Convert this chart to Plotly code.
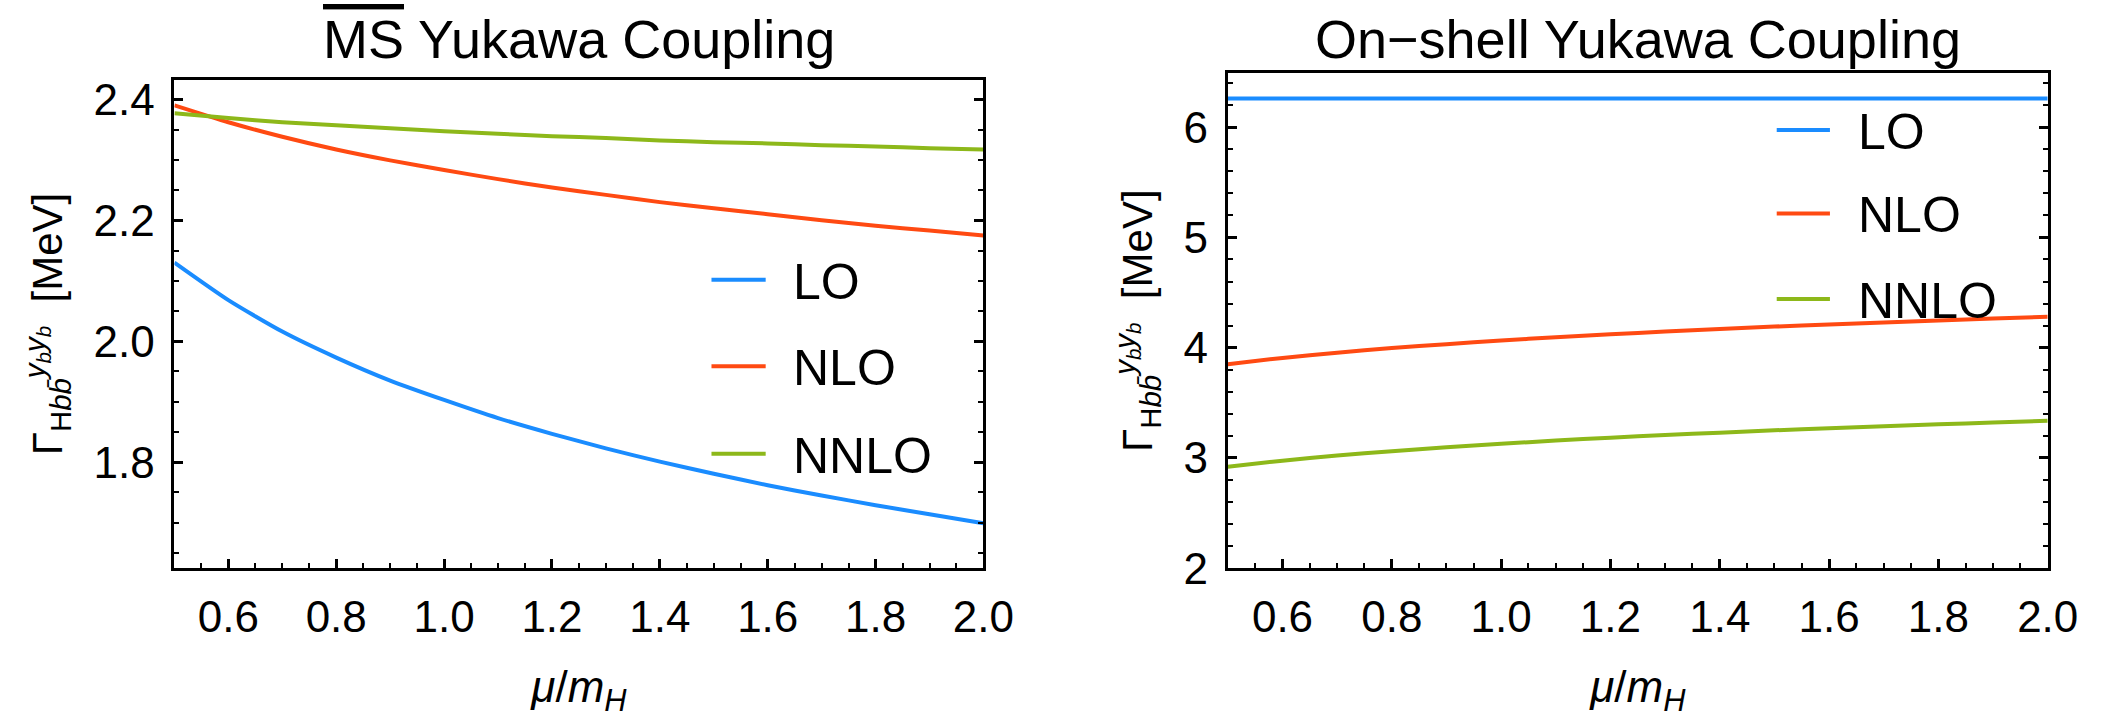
import plotly.graph_objects as go

# ---------------- data ----------------
mu = [0.5, 0.6, 0.7, 0.8, 0.9, 1.0, 1.1, 1.2, 1.3, 1.4, 1.5, 1.6, 1.7, 1.8, 1.9, 2.0]

# MS-bar Yukawa coupling  [MeV]
ms_lo   = [2.130, 2.068, 2.016, 1.973, 1.935, 1.903, 1.873, 1.847, 1.823, 1.801, 1.781, 1.762, 1.745, 1.729, 1.714, 1.699]
ms_nlo  = [2.390, 2.362, 2.338, 2.317, 2.299, 2.283, 2.268, 2.254, 2.242, 2.230, 2.220, 2.210, 2.200, 2.191, 2.183, 2.175]
ms_nnlo = [2.377, 2.369, 2.362, 2.357, 2.352, 2.347, 2.343, 2.339, 2.336, 2.332, 2.329, 2.327, 2.324, 2.322, 2.319, 2.317]

# On-shell Yukawa coupling  [MeV]
os_lo   = [6.26] * len(mu)
os_nlo  = [3.850, 3.907, 3.954, 3.996, 4.032, 4.065, 4.094, 4.121, 4.146, 4.169, 4.191, 4.211, 4.229, 4.247, 4.264, 4.280]
os_nnlo = [2.920, 2.975, 3.021, 3.061, 3.096, 3.128, 3.157, 3.183, 3.207, 3.229, 3.250, 3.269, 3.287, 3.304, 3.321, 3.336]

series_names = ["LO", "NLO", "NNLO"]
titles = ["<span style='text-decoration:overline'>MS</span> Yukawa Coupling", "On\u2212shell Yukawa Coupling"]
x_ticks = [0.6, 0.8, 1.0, 1.2, 1.4, 1.6, 1.8, 2.0]
left_y_ticks = [1.8, 2.0, 2.2, 2.4]
right_y_ticks = [2, 3, 4, 5, 6]

# ---------------- styling ----------------
W, H = 2127, 718
colors = ["#1a8cff", "#ff4a12", "#8db81a"]
FONT = "Liberation Sans, Arial, Helvetica, sans-serif"

def px_x(p):
    return p / W

def px_y(p):
    return 1 - p / H

fig = go.Figure()

panels = [
    (ms_lo, ms_nlo, ms_nnlo, "x", "y"),
    (os_lo, os_nlo, os_nnlo, "x2", "y2"),
]
for (lo, nlo, nnlo, xa, ya) in panels:
    for name, vals, col in zip(series_names, [lo, nlo, nnlo], colors):
        fig.add_trace(go.Scatter(
            x=mu, y=vals, mode="lines", name=name,
            line=dict(color=col, width=4, shape="spline", smoothing=0.6),
            xaxis=xa, yaxis=ya, showlegend=False,
        ))

axis_common = dict(
    showline=True, linecolor="black", linewidth=3,
    ticks="inside", tickcolor="black", tickwidth=2.5, ticklen=9,
    showgrid=False, zeroline=False,
    tickfont=dict(family=FONT, size=44, color="black"),
)

ytitle = ("\u0393<sub>H<i>b</i><i>b\u0304</i></sub>"
          "<sup><i>y<sub>b</sub>y<sub>b</sub></i></sup>  [MeV]")
xtitle = "<i>\u03bc</i>/<i>m<sub>H</sub></i>"

fig.update_layout(
    width=W, height=H,
    margin=dict(l=0, r=0, t=0, b=0),
    paper_bgcolor="white", plot_bgcolor="white",
    font=dict(family=FONT, color="black"),
    showlegend=False,
    xaxis=dict(domain=[px_x(177), px_x(998)], range=[0.5, 2.0], anchor="y",
               tickvals=x_ticks, tickformat=".1f", mirror=True,
               minor=dict(dtick=0.05, tick0=0.5, ticklen=5, tickwidth=2, tickcolor="black", ticks="inside"),
               ticklabelstandoff=8,
               title=dict(text=xtitle, font=dict(size=44, family=FONT), standoff=40),
               **axis_common),
    yaxis=dict(domain=[px_y(587), px_y(79)], range=[1.625, 2.432], anchor="x",
               tickvals=left_y_ticks, tickformat=".1f", mirror="ticks",
               minor=dict(dtick=0.05, tick0=1.6, ticklen=5, tickwidth=2, tickcolor="black", ticks="inside"),
               ticklabelstandoff=8,
               title=dict(text=ytitle, font=dict(size=42, family=FONT), standoff=18),
               **axis_common),
    xaxis2=dict(domain=[px_x(1246), px_x(2078)], range=[0.5, 2.0], anchor="y2",
                tickvals=x_ticks, tickformat=".1f", mirror=True,
                minor=dict(dtick=0.05, tick0=0.5, ticklen=5, tickwidth=2, tickcolor="black", ticks="inside"),
                ticklabelstandoff=8,
                title=dict(text=xtitle, font=dict(size=44, family=FONT), standoff=40),
                **axis_common),
    yaxis2=dict(domain=[px_y(587), px_y(72)], range=[2.0, 6.49], anchor="x2",
                tickvals=right_y_ticks, tickformat="d", mirror="ticks",
                minor=dict(dtick=0.2, tick0=2.0, ticklen=5, tickwidth=2, tickcolor="black", ticks="inside"),
                ticklabelstandoff=8,
                title=dict(text=ytitle, font=dict(size=42, family=FONT), standoff=18),
                **axis_common),
)

# panel titles
for t, cx in zip(titles, [(177 + 998) / 2, (1246 + 2078) / 2]):
    fig.add_annotation(text=t, x=px_x(cx), y=px_y(70), xref="paper", yref="paper",
                       xanchor="center", yanchor="bottom", showarrow=False,
                       font=dict(size=54, family=FONT, color="black"))

# legends (line sample + label), one per panel
legend_layout = [
    dict(x0=722, x1=777, xt=803, ys=[287, 377, 468]),
    dict(x0=1803, x1=1857, xt=1883, ys=[131, 218, 307]),
]
for lay in legend_layout:
    for name, col, yc in zip(series_names, colors, lay["ys"]):
        fig.add_shape(type="line", xref="paper", yref="paper",
                      x0=px_x(lay["x0"]), x1=px_x(lay["x1"]),
                      y0=px_y(yc), y1=px_y(yc),
                      line=dict(color=col, width=4))
        fig.add_annotation(text=name, x=px_x(lay["xt"]), y=px_y(yc + 2),
                           xref="paper", yref="paper", xanchor="left", yanchor="middle",
                           showarrow=False,
                           font=dict(size=50, family=FONT, color="black"))

fig.write_html("out.html")
